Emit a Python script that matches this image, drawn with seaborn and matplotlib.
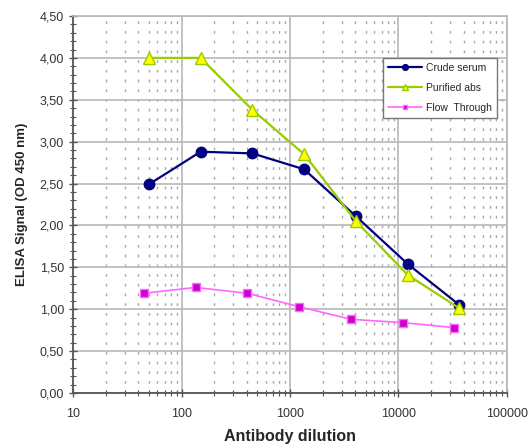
import numpy as np
import pandas as pd
import matplotlib
matplotlib.use('Agg')
import matplotlib.pyplot as plt
import matplotlib.ticker as mticker
import seaborn as sns

# values
dil_main = [50, 150, 450, 1350, 4050, 12150, 36450]
dil_flow = [45, 135, 405, 1215, 3645, 10935, 32805]
crude = [2.49, 2.88, 2.86, 2.67, 2.11, 1.54, 1.05]
purified = [4.00, 4.00, 3.38, 2.85, 2.05, 1.41, 1.01]
flow = [1.19, 1.26, 1.19, 1.03, 0.88, 0.84, 0.78]
y_ticks = [0, 0.5, 1.0, 1.5, 2.0, 2.5, 3.0, 3.5, 4.0, 4.5]
x_ticks = [10, 100, 1000, 10000, 100000]

sns.set_style('white')
plt.rcParams['font.family'] = ['Liberation Sans', 'DejaVu Sans']

fig = plt.figure(figsize=(5.29, 4.45), dpi=100)
ax = fig.add_axes([73/529, 1-393/445, (507-73)/529, (393-16)/445])

series = [
    ('Crude serum', dil_main, crude, '#000080', 'o', '#000080', '#000080', 7.5),
    ('Purified abs', dil_main, purified, '#99CC00', '^', '#FFFF00', '#99CC00', 8.5),
    ('Flow  Through', dil_flow, flow, '#FF66FF', 's', '#CC00CC', '#FF66FF', 6),
]
for name, xs, ys, lc, mk, mfc, mec, ms in series:
    df = pd.DataFrame({'x': xs, 'y': ys})
    sns.lineplot(data=df, x='x', y='y', ax=ax, color=lc, marker=mk, markersize=ms,
                 markerfacecolor=mfc, markeredgecolor=mec, markeredgewidth=1,
                 linewidth=1.6 if mk != 's' else 1.2, label=name, zorder=3)

ax.set_xscale('log')
ax.set_xlim(10, 100000)
ax.set_ylim(0, 4.5)
ax.set_xticks(x_ticks)
ax.xaxis.set_major_formatter(mticker.FuncFormatter(lambda v, p: f'{int(v)}'))
ax.xaxis.set_minor_locator(mticker.LogLocator(base=10, subs=np.arange(2, 10)))
ax.xaxis.set_minor_formatter(mticker.NullFormatter())
ax.set_yticks(y_ticks)
ax.yaxis.set_major_formatter(mticker.FuncFormatter(lambda v, p: f'{v:.2f}'.replace('.', ',')))
ax.yaxis.set_minor_locator(mticker.MultipleLocator(0.1))

ax.grid(which='major', color='#B8B8B8', linewidth=1.2, linestyle='-', zorder=0)
ax.grid(which='minor', axis='x', color='#A8A8A8', linewidth=1, linestyle=(0, (2, 5)), zorder=0)

ax.tick_params(axis='both', which='major', direction='inout', length=6, width=1, color='#555555',
               labelsize=9, labelcolor='#333333', left=True, bottom=True)
ax.tick_params(axis='both', which='minor', direction='inout', length=4, width=0.8, color='#555555',
               left=True, bottom=True)
ax.tick_params(axis='x', pad=8)

for s in ['left', 'bottom']:
    ax.spines[s].set_color('#555555')
    ax.spines[s].set_linewidth(1.3)
for s in ['top', 'right']:
    ax.spines[s].set_color('#B8B8B8')
    ax.spines[s].set_linewidth(1.2)

ax.set_xlabel('Antibody dilution', fontsize=11.5, fontweight='bold', labelpad=6)
ax.set_ylabel('ELISA Signal (OD 450 nm)', fontsize=9.5, fontweight='bold', labelpad=8)

leg = ax.legend(loc='upper right', bbox_to_anchor=(0.977, 0.889), borderaxespad=0, fontsize=7.5,
                frameon=True, fancybox=False, edgecolor='#777777', framealpha=1, handlelength=3.2,
                borderpad=0.5, labelspacing=0.95, markerscale=0.55, handletextpad=0.4)
leg.get_frame().set_linewidth(1)

fig.savefig('out.png', dpi=100)
